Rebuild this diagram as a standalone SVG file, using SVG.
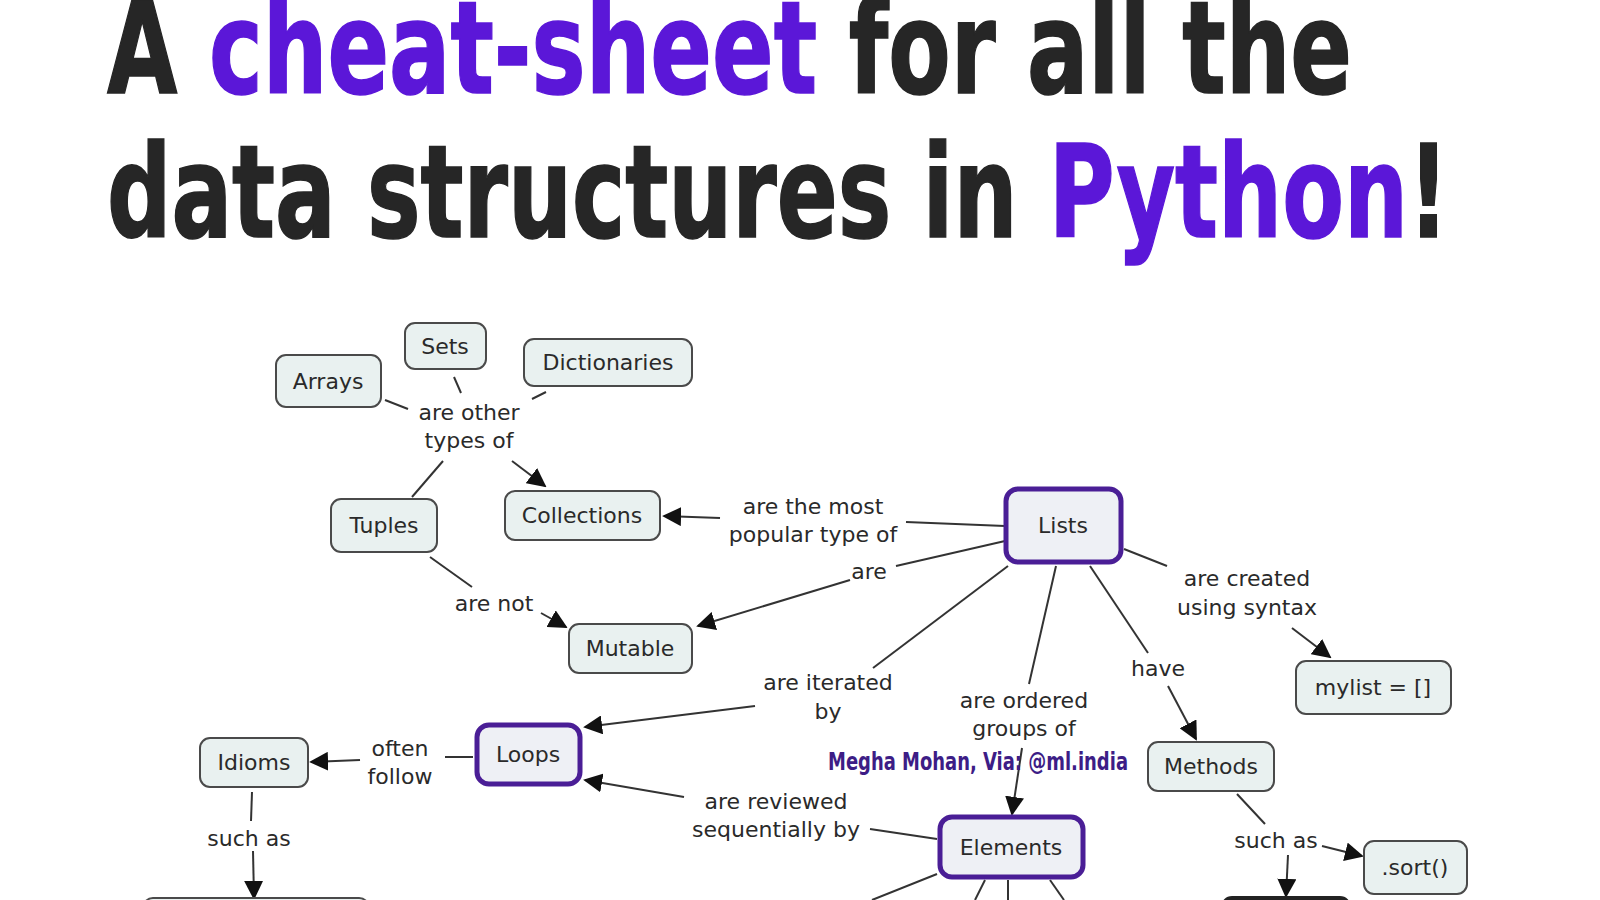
<svg xmlns="http://www.w3.org/2000/svg" width="1600" height="900" viewBox="0 0 1600 900">
<defs>
<marker id="ah" viewBox="0 0 10 10" refX="9" refY="5" markerWidth="19" markerHeight="19" markerUnits="userSpaceOnUse" orient="auto">
<path d="M0,0 L10,5 L0,10 z" fill="#111"/>
</marker>
<style>
.title{font-family:"DejaVu Sans Condensed","DejaVu Sans",sans-serif;font-stretch:condensed;font-weight:bold;font-size:128px;fill:#262626;stroke:#262626;stroke-width:1.5}
.pur{fill:#5b17d8;stroke:#5b17d8}
.node rect{fill:#e9f1f0;stroke:#4a4a4a;stroke-width:2}
.node.main rect{fill:#eef0f5;stroke:#4a1e96;stroke-width:5}
.node text{font-family:"DejaVu Sans",Verdana,sans-serif;font-size:22px;fill:#2a2a2a;text-anchor:middle}
.lbl{font-family:"DejaVu Sans",Verdana,sans-serif;font-size:22px;fill:#2a2a2a;text-anchor:middle}
.conn line{stroke:#333;stroke-width:2}
.conn line.arr{marker-end:url(#ah)}
.credit{font-family:"DejaVu Sans Condensed","DejaVu Sans",sans-serif;font-stretch:condensed;font-weight:bold;font-size:24px;fill:#3d1d86;text-anchor:middle}
</style>
</defs>
<rect width="1600" height="900" fill="#ffffff"/>
<g id="title">
<text class="title" x="107" y="93" textLength="1245" lengthAdjust="spacingAndGlyphs">A <tspan class="pur">cheat-sheet</tspan> for all the</text>
<text class="title" x="107" y="237" textLength="1342" lengthAdjust="spacingAndGlyphs">data structures in <tspan class="pur">Python</tspan>!</text>
</g>
<g id="connectors" class="conn">
<line x1="385" y1="400" x2="408" y2="409"/>
<line x1="454" y1="377" x2="461" y2="393"/>
<line x1="546" y1="392" x2="532" y2="399"/>
<line x1="412" y1="497" x2="443" y2="461"/>
<line class="arr" x1="512" y1="461" x2="545" y2="486"/>
<line x1="1005" y1="526" x2="906" y2="522"/>
<line class="arr" x1="720" y1="518" x2="664" y2="516"/>
<line x1="1005" y1="541" x2="896" y2="566"/>
<line class="arr" x1="850" y1="580" x2="698" y2="626"/>
<line x1="430" y1="557" x2="472" y2="587"/>
<line class="arr" x1="541" y1="613" x2="566" y2="627"/>
<line x1="1124" y1="549" x2="1167" y2="566"/>
<line class="arr" x1="1292" y1="628" x2="1330" y2="657"/>
<line x1="1008" y1="566" x2="873" y2="668"/>
<line class="arr" x1="755" y1="706" x2="585" y2="727"/>
<line x1="1056" y1="566" x2="1029" y2="684"/>
<line class="arr" x1="1022" y1="748" x2="1012" y2="814"/>
<line x1="1090" y1="566" x2="1148" y2="653"/>
<line class="arr" x1="1168" y1="686" x2="1196" y2="739"/>
<line x1="473" y1="757" x2="445" y2="757"/>
<line class="arr" x1="360" y1="760" x2="311" y2="762"/>
<line x1="937" y1="839" x2="870" y2="829"/>
<line class="arr" x1="684" y1="797" x2="585" y2="780"/>
<line x1="252" y1="792" x2="251" y2="821"/>
<line class="arr" x1="253" y1="851" x2="254" y2="898"/>
<line x1="1237" y1="794" x2="1265" y2="824"/>
<line class="arr" x1="1322" y1="846" x2="1362" y2="856"/>
<line class="arr" x1="1288" y1="855" x2="1286" y2="896"/>
<line x1="937" y1="874" x2="872" y2="900"/>
<line x1="985" y1="880" x2="975" y2="900"/>
<line x1="1008" y1="880" x2="1008" y2="900"/>
<line x1="1050" y1="880" x2="1064" y2="900"/>
</g>
<g id="labels">
<text class="lbl" x="469" y="420">are other</text>
<text class="lbl" x="469" y="448">types of</text>
<text class="lbl" x="813" y="514">are the most</text>
<text class="lbl" x="813" y="542">popular type of</text>
<text class="lbl" x="869" y="579">are</text>
<text class="lbl" x="494" y="611">are not</text>
<text class="lbl" x="1247" y="586">are created</text>
<text class="lbl" x="1247" y="615">using syntax</text>
<text class="lbl" x="828" y="690">are iterated</text>
<text class="lbl" x="828" y="719">by</text>
<text class="lbl" x="1024" y="708">are ordered</text>
<text class="lbl" x="1024" y="736">groups of</text>
<text class="lbl" x="1158" y="676">have</text>
<text class="lbl" x="400" y="756">often</text>
<text class="lbl" x="400" y="784">follow</text>
<text class="lbl" x="776" y="809">are reviewed</text>
<text class="lbl" x="776" y="837">sequentially by</text>
<text class="lbl" x="249" y="846">such as</text>
<text class="lbl" x="1276" y="848">such as</text>
</g>
<text class="credit" x="978" y="770" textLength="300" lengthAdjust="spacingAndGlyphs">Megha Mohan, Via: @ml.india</text>
<g id="node-sets" class="node"><rect x="405" y="323" width="81" height="46" rx="10"/><text x="445" y="354">Sets</text></g>
<g id="node-arrays" class="node"><rect x="276" y="355" width="105" height="52" rx="10"/><text x="328" y="389">Arrays</text></g>
<g id="node-dictionaries" class="node"><rect x="524" y="339" width="168" height="47" rx="10"/><text x="608" y="370">Dictionaries</text></g>
<g id="node-tuples" class="node"><rect x="331" y="499" width="106" height="53" rx="10"/><text x="384" y="533">Tuples</text></g>
<g id="node-collections" class="node"><rect x="505" y="491" width="155" height="49" rx="10"/><text x="582" y="523">Collections</text></g>
<g id="node-lists" class="node main"><rect x="1006" y="489" width="115" height="73" rx="12"/><text x="1063" y="533">Lists</text></g>
<g id="node-mutable" class="node"><rect x="569" y="624" width="123" height="49" rx="10"/><text x="630" y="656">Mutable</text></g>
<g id="node-mylist" class="node"><rect x="1296" y="661" width="155" height="53" rx="10"/><text x="1373" y="695">mylist = []</text></g>
<g id="node-loops" class="node main"><rect x="477" y="725" width="103" height="59" rx="12"/><text x="528" y="762">Loops</text></g>
<g id="node-idioms" class="node"><rect x="200" y="738" width="108" height="49" rx="10"/><text x="254" y="770">Idioms</text></g>
<g id="node-methods" class="node"><rect x="1148" y="742" width="126" height="49" rx="10"/><text x="1211" y="774">Methods</text></g>
<g id="node-elements" class="node main"><rect x="940" y="817" width="143" height="60" rx="12"/><text x="1011" y="855">Elements</text></g>
<g id="node-sort" class="node"><rect x="1364" y="841" width="103" height="53" rx="10"/><text x="1415" y="875">.sort()</text></g>
<g id="node-idiom-example" class="node"><rect x="143" y="898" width="226" height="40" rx="10"/></g>
<g id="node-method-example" class="node"><rect x="1222" y="897" width="128" height="40" rx="10" style="fill:#222;stroke:#222"/></g>
</svg>
